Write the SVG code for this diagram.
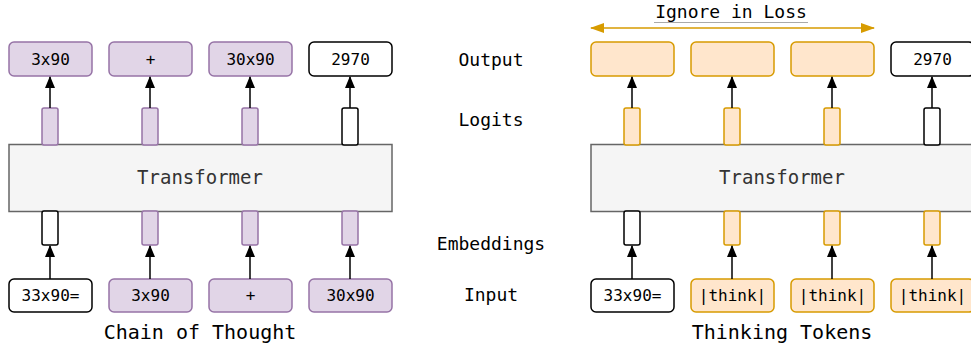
<svg xmlns="http://www.w3.org/2000/svg" width="971" height="352" viewBox="0 0 971 352">
<style>
text{font-family:"DejaVu Sans Mono","Liberation Mono",monospace;text-anchor:middle;fill:#000}
.tok{font-size:16px}
.lab{font-size:18px}
.cap{font-size:20px}
.tf{font-size:19px;fill:#333}
.pu{fill:#e1d5e7;stroke:#9673a6;stroke-width:1.5}
.or{fill:#ffe6cc;stroke:#d79b00;stroke-width:1.5}
.wh{fill:#fff;stroke:#000;stroke-width:1.5}
.trans{fill:#f5f5f5;stroke:#666;stroke-width:1.5}
.arr{stroke:#000;stroke-width:1.5;fill:none;marker-end:url(#ah)}
</style>
<defs>
<marker id="ah" markerUnits="userSpaceOnUse" markerWidth="12" markerHeight="14" refX="11" refY="5" orient="auto" viewBox="0 0 12 10">
<path d="M0,0 L12,5 L0,10 Z" fill="#000"/>
</marker>
<marker id="oh" markerUnits="userSpaceOnUse" markerWidth="14" markerHeight="10" refX="13" refY="5" orient="auto-start-reverse" viewBox="0 0 14 10">
<path d="M0,0 L14,5 L0,10 Z" fill="#d79b00"/>
</marker>
</defs>

<g id="labels">
<text class="lab" x="491" y="66">Output</text>
<text class="lab" x="491" y="126">Logits</text>
<text class="lab" x="491" y="250">Embeddings</text>
<text class="lab" x="491" y="301">Input</text>
<text class="cap" x="200" y="339">Chain of Thought</text>
<text class="cap" x="782" y="339">Thinking Tokens</text>
</g>

<g id="ignore-in-loss">
<text class="lab" x="731" y="18">Ignore in Loss</text>
<line x1="654" y1="22.5" x2="808" y2="22.5" stroke="#aaa" stroke-width="1"/>
</g>

<g id="cot-transformer">
<rect class="trans" x="9" y="144.5" width="383" height="67"/>
<text class="tf" x="200" y="184">Transformer</text>
</g>
<g id="tt-transformer">
<rect class="trans" x="591" y="144.5" width="383" height="67"/>
<text class="tf" x="782" y="184">Transformer</text>
</g>

<!-- Chain of Thought outputs -->
<g id="cot-out1"><rect class="pu" x="9" y="42" width="83" height="34" rx="5"/><text class="tok" x="50.5" y="65">3x90</text></g>
<g id="cot-out2"><rect class="pu" x="109" y="42" width="83" height="34" rx="5"/><text class="tok" x="150.5" y="65">+</text></g>
<g id="cot-out3"><rect class="pu" x="209" y="42" width="83" height="34" rx="5"/><text class="tok" x="250.5" y="65">30x90</text></g>
<g id="cot-out4"><rect class="wh" x="309" y="42" width="83" height="34" rx="5"/><text class="tok" x="350.5" y="65">2970</text></g>

<g id="cot-logit1"><rect class="pu" x="42" y="108" width="16" height="37" rx="2"/></g>
<g id="cot-logit2"><rect class="pu" x="142" y="108" width="16" height="37" rx="2"/></g>
<g id="cot-logit3"><rect class="pu" x="242" y="108" width="16" height="37" rx="2"/></g>
<g id="cot-logit4"><rect class="wh" x="342" y="108" width="16" height="37" rx="2"/></g>

<g id="cot-emb1"><rect class="wh" x="42" y="211" width="16" height="34" rx="2"/></g>
<g id="cot-emb2"><rect class="pu" x="142" y="211" width="16" height="34" rx="2"/></g>
<g id="cot-emb3"><rect class="pu" x="242" y="211" width="16" height="34" rx="2"/></g>
<g id="cot-emb4"><rect class="pu" x="342" y="211" width="16" height="34" rx="2"/></g>

<g id="cot-in1"><rect class="wh" x="9" y="279" width="83" height="33" rx="5"/><text class="tok" x="50.5" y="301">33x90=</text></g>
<g id="cot-in2"><rect class="pu" x="109" y="279" width="83" height="33" rx="5"/><text class="tok" x="150.5" y="301">3x90</text></g>
<g id="cot-in3"><rect class="pu" x="209" y="279" width="83" height="33" rx="5"/><text class="tok" x="250.5" y="301">+</text></g>
<g id="cot-in4"><rect class="pu" x="309" y="279" width="83" height="33" rx="5"/><text class="tok" x="350.5" y="301">30x90</text></g>

<!-- Thinking Tokens -->
<g id="tt-out1"><rect class="or" x="591" y="42" width="83" height="34" rx="5"/></g>
<g id="tt-out2"><rect class="or" x="691" y="42" width="83" height="34" rx="5"/></g>
<g id="tt-out3"><rect class="or" x="791" y="42" width="83" height="34" rx="5"/></g>
<g id="tt-out4"><rect class="wh" x="891" y="42" width="83" height="34" rx="5"/><text class="tok" x="932.5" y="65">2970</text></g>

<g id="tt-logit1"><rect class="or" x="624" y="108" width="16" height="37" rx="2"/></g>
<g id="tt-logit2"><rect class="or" x="724" y="108" width="16" height="37" rx="2"/></g>
<g id="tt-logit3"><rect class="or" x="824" y="108" width="16" height="37" rx="2"/></g>
<g id="tt-logit4"><rect class="wh" x="924" y="108" width="16" height="37" rx="2"/></g>

<g id="tt-emb1"><rect class="wh" x="624" y="211" width="16" height="34" rx="2"/></g>
<g id="tt-emb2"><rect class="or" x="724" y="211" width="16" height="34" rx="2"/></g>
<g id="tt-emb3"><rect class="or" x="824" y="211" width="16" height="34" rx="2"/></g>
<g id="tt-emb4"><rect class="or" x="924" y="211" width="16" height="34" rx="2"/></g>

<g id="tt-in1"><rect class="wh" x="591" y="279" width="83" height="33" rx="5"/><text class="tok" x="632.5" y="301">33x90=</text></g>
<g id="tt-in2"><rect class="or" x="691" y="279" width="83" height="33" rx="5"/><text class="tok" x="732.5" y="301">|think|</text></g>
<g id="tt-in3"><rect class="or" x="791" y="279" width="83" height="33" rx="5"/><text class="tok" x="832.5" y="301">|think|</text></g>
<g id="tt-in4"><rect class="or" x="891" y="279" width="83" height="33" rx="5"/><text class="tok" x="932.5" y="301">|think|</text></g>

<g id="connectors">
<line class="arr" x1="50" y1="108" x2="50" y2="77"/>
<line class="arr" x1="150" y1="108" x2="150" y2="77"/>
<line class="arr" x1="250" y1="108" x2="250" y2="77"/>
<line class="arr" x1="350" y1="108" x2="350" y2="77"/>
<line class="arr" x1="50" y1="279" x2="50" y2="246"/>
<line class="arr" x1="150" y1="279" x2="150" y2="246"/>
<line class="arr" x1="250" y1="279" x2="250" y2="246"/>
<line class="arr" x1="350" y1="279" x2="350" y2="246"/>
<line class="arr" x1="632" y1="108" x2="632" y2="77"/>
<line class="arr" x1="732" y1="108" x2="732" y2="77"/>
<line class="arr" x1="832" y1="108" x2="832" y2="77"/>
<line class="arr" x1="932" y1="108" x2="932" y2="77"/>
<line class="arr" x1="632" y1="279" x2="632" y2="246"/>
<line class="arr" x1="732" y1="279" x2="732" y2="246"/>
<line class="arr" x1="832" y1="279" x2="832" y2="246"/>
<line class="arr" x1="932" y1="279" x2="932" y2="246"/>
<line x1="591" y1="28" x2="874" y2="28" stroke="#d79b00" stroke-width="1.5" marker-start="url(#oh)" marker-end="url(#oh)"/>
</g>
</svg>
